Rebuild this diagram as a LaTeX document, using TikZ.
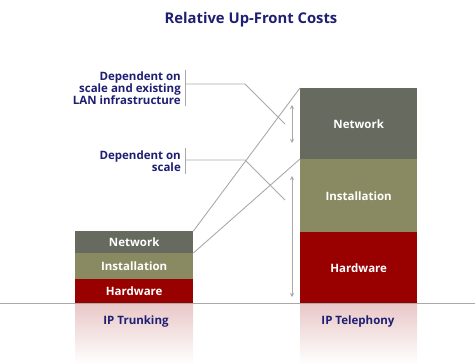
\documentclass[tikz,border=0pt]{standalone}
\usepackage{fontspec}
\setmainfont{Open Sans}
\usetikzlibrary{arrows.meta}
\definecolor{netgray}{HTML}{676A5F}
\definecolor{instolive}{HTML}{8A8A62}
\definecolor{hwred}{HTML}{990000}
\definecolor{navytext}{HTML}{1E1E72}
\definecolor{leadgray}{HTML}{A9A9A9}
\begin{document}
\begin{tikzpicture}[x=1pt, y=-1pt,
    seg/.style={anchor=north west, inner sep=0pt, text=white, font=\fontsize{11.5}{12}\selectfont\bfseries},
    lead/.style={draw=leadgray, line width=0.9pt},
    span/.style={leadgray, line width=0.9pt, {Stealth[length=4pt,width=4pt]}-{Stealth[length=4pt,width=4pt]}},
    note/.style={anchor=east, align=right, text=navytext, inner sep=0pt, font=\fontsize{11.5}{12}\selectfont\bfseries},
    caption/.style={text=navytext, font=\fontsize{11.5}{13}\selectfont\bfseries},
]
\useasboundingbox (0,0) rectangle (475,364);

% Title
\node[caption, font=\fontsize{14.8}{16}\selectfont\bfseries] (title) at (251,20) {Relative Up-Front Costs};

% --- reflections under the bars ---
\shade[top color=hwred!22, middle color=instolive!12, bottom color=white] (75,303) rectangle (193,364);
\shade[top color=hwred!22, middle color=hwred!8, bottom color=white] (300,303) rectangle (417,364);

% --- IP TRUNKING ---
\node[seg, fill=netgray, minimum width=118, minimum height=22] (tnet) at (75,231) {Network};
\node[seg, fill=instolive, minimum width=118, minimum height=26] (tinst) at (75,253) {Installation};
\node[seg, fill=hwred, minimum width=118, minimum height=24] (thw) at (75,279) {Hardware};
\node[caption] (tlab) at (136,322) {IP Trunking};

% --- IP TELEPHONY ---
\node[seg, fill=netgray, minimum width=117, minimum height=71] (pnet) at (300,88) {Network};
\node[seg, fill=instolive, minimum width=117, minimum height=73] (pinst) at (300,159) {Installation};
\node[seg, fill=hwred, minimum width=117, minimum height=71] (phw) at (300,232) {Hardware};
\node[caption] (plab) at (358,322) {IP Telephony};

% Baseline
\draw[leadgray, line width=0.8pt] (0,303) -- (475,303);

% Lines joining the two bars
\draw[lead] (tnet.north east) -- (pnet.north west);
\draw[lead] (tinst.north east) -- (pinst.north west);

% Spans on the telephony bar
\draw[span] (292,105) -- (292,143);
\draw[span] (292,176) -- (292,297);

% --- notes ---
\node[note] (lannote) at (181,88) {Dependent on\\scale and existing\\LAN infrastructure};
\draw[leadgray, line width=0.9pt] (185,70) -- (185,106);
\coordinate (lanend) at (285,124);
\draw[lead] (185,84) -- (245,84) -- (lanend);

\node[note] (scalenote) at (181,161) {Dependent on\\scale};
\draw[leadgray, line width=0.9pt] (185,148) -- (185,174);
\coordinate (scaleend) at (285,200);
\draw[lead] (185,160) -- (245,160) -- (scaleend);

\end{tikzpicture}
\end{document}
